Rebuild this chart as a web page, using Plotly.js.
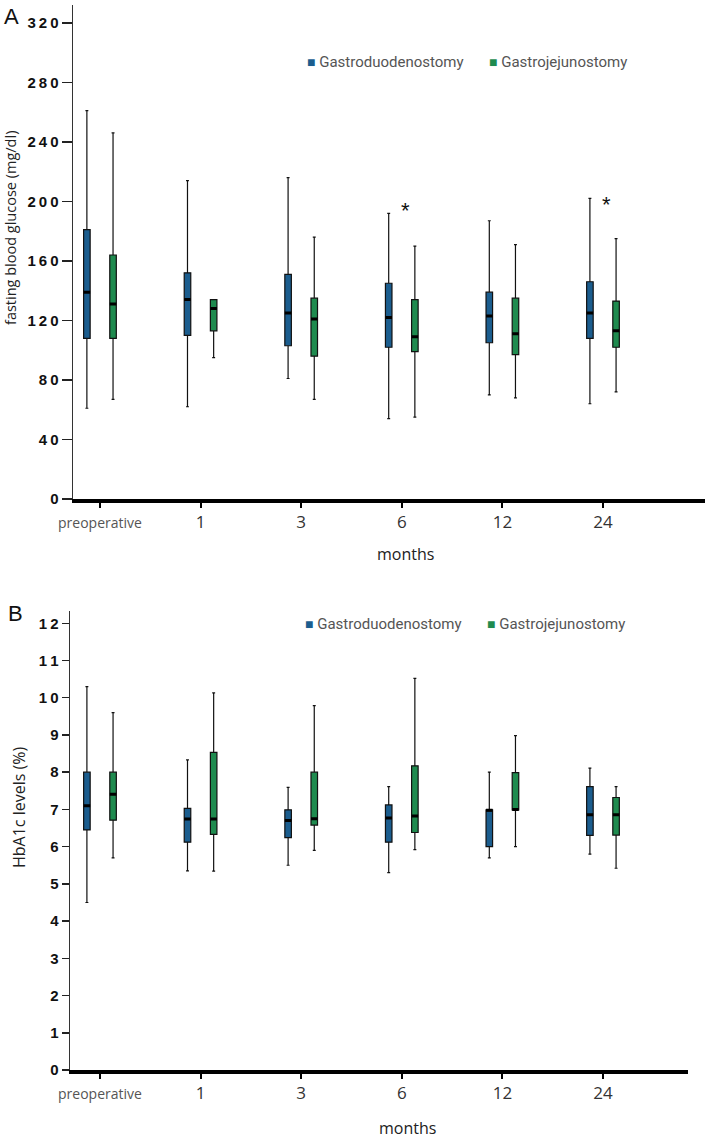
<!DOCTYPE html>
<html>
<head>
<meta charset="utf-8">
<script src="https://cdn.plot.ly/plotly-3.0.1.min.js"></script>
<style>
  body { margin: 0; background: #fff; }
  #myPlot { width: 705px; height: 1140px; }
</style>
</head>
<body>
<div id="myPlot"></div>
<script>
// Categories (months after surgery)
const months = ['preoperative', '1', '3', '6', '12', '24'];
const groups = ['Gastroduodenostomy', 'Gastrojejunostomy'];

// A: fasting blood glucose (mg/dl)
const fbg_gd_low  = [61, 62, 81, 54, 70, 64];
const fbg_gd_q1   = [108, 110, 103, 102, 105, 108];
const fbg_gd_med  = [139, 134, 125, 122, 123, 125];
const fbg_gd_q3   = [181, 152, 151, 145, 139, 146];
const fbg_gd_high = [261, 214, 216, 192, 187, 202];

const fbg_gj_low  = [67, 95, 67, 55, 68, 72];
const fbg_gj_q1   = [108, 113, 96, 99, 97, 102];
const fbg_gj_med  = [131, 128, 121, 109, 111, 113];
const fbg_gj_q3   = [164, 134, 135, 134, 135, 133];
const fbg_gj_high = [246, 134, 176, 170, 171, 175];

// B: HbA1c levels (%)
const hba_gd_low  = [4.5, 5.35, 5.5, 5.3, 5.7, 5.8];
const hba_gd_q1   = [6.45, 6.12, 6.24, 6.12, 6.0, 6.3];
const hba_gd_med  = [7.1, 6.74, 6.7, 6.77, 6.98, 6.86];
const hba_gd_q3   = [8.0, 7.03, 6.99, 7.12, 6.99, 7.61];
const hba_gd_high = [10.3, 8.33, 7.59, 7.61, 8.0, 8.11];

const hba_gj_low  = [5.7, 5.34, 5.9, 5.92, 6.0, 5.42];
const hba_gj_q1   = [6.71, 6.33, 6.58, 6.38, 6.99, 6.31];
const hba_gj_med  = [7.41, 6.74, 6.75, 6.82, 7.0, 6.86];
const hba_gj_q3   = [8.0, 8.53, 8.0, 8.17, 7.99, 7.32];
const hba_gj_high = [9.6, 10.13, 9.79, 10.52, 8.98, 7.61];

// y tick values
const fbg_ticks = [0, 40, 80, 120, 160, 200, 240, 280, 320];
const hba_ticks = [0, 1, 2, 3, 4, 5, 6, 7, 8, 9, 10, 11, 12];

// significance marks
const star_months = ['6', '24'];
const star_values = [196, 200];

const blue = '#1b5d8e';
const green = '#1f8b4f';

// paper coords from pixel positions
function px(x) { return x / 705; }
function py(y) { return 1 - y / 1140; }

function boxTrace(name, color, low, q1, med, q3, high, xa, ya) {
  return {
    type: 'box', name: name, x: months,
    lowerfence: low, q1: q1, median: med, q3: q3, upperfence: high,
    boxpoints: false, offsetgroup: name,
    fillcolor: color, line: {color: '#111', width: 1.2},
    whiskerwidth: 0.45, xaxis: xa, yaxis: ya,
    showlegend: false, hoverinfo: 'y'
  };
}
// thick median line drawn over the box
function medianTrace(name, med, xa, ya) {
  return {
    type: 'box', name: name + ' median', x: months,
    lowerfence: med, q1: med, median: med, q3: med, upperfence: med,
    boxpoints: false, offsetgroup: name,
    fillcolor: '#000', line: {color: '#000', width: 3},
    whiskerwidth: 0, xaxis: xa, yaxis: ya,
    showlegend: false, hoverinfo: 'skip'
  };
}

var data = [
  boxTrace(groups[0], blue, fbg_gd_low, fbg_gd_q1, fbg_gd_med, fbg_gd_q3, fbg_gd_high, 'x', 'y'),
  boxTrace(groups[1], green, fbg_gj_low, fbg_gj_q1, fbg_gj_med, fbg_gj_q3, fbg_gj_high, 'x', 'y'),
  medianTrace(groups[0], fbg_gd_med, 'x', 'y'),
  medianTrace(groups[1], fbg_gj_med, 'x', 'y'),
  boxTrace(groups[0], blue, hba_gd_low, hba_gd_q1, hba_gd_med, hba_gd_q3, hba_gd_high, 'x2', 'y2'),
  boxTrace(groups[1], green, hba_gj_low, hba_gj_q1, hba_gj_med, hba_gj_q3, hba_gj_high, 'x2', 'y2'),
  medianTrace(groups[0], hba_gd_med, 'x2', 'y2'),
  medianTrace(groups[1], hba_gj_med, 'x2', 'y2')
];

var tickText = months.map(function(m) {
  return m === 'preoperative'
    ? '<span style="font-size:14px;color:#555">' + m + '</span>'
    : m;
});
// spaced-out bold digits like the original
function spaced(v) { return String(v).split('').join('\u2009'); }

var xAxisBase = {
  type: 'category', showline: true, linewidth: 4, linecolor: '#000',
  ticks: 'outside', ticklen: 5, tickwidth: 2, tickcolor: '#000',
  tickvals: months, ticktext: tickText,
  tickfont: {family: 'Open Sans, sans-serif', size: 17, color: '#333'},
  showgrid: false, zeroline: false, fixedrange: true
};
var yAxisBase = {
  showline: true, linewidth: 1.5, linecolor: '#333',
  ticks: 'outside', tickwidth: 1.5, tickcolor: '#222',
  tickmode: 'array',
  tickfont: {family: 'Liberation Sans, Arial, sans-serif', size: 15, color: '#111', weight: 700},
  showgrid: false, zeroline: false, fixedrange: true
};

function legendNotes(yPix, x1, x2) {
  var f = {family: 'Roboto, sans-serif', size: 15, color: '#555'};
  function item(color, label) {
    return '<span style="color:' + color + ';font-size:14px">■</span> ' + label;
  }
  return [
    {xref: 'paper', yref: 'paper', x: px(x1), y: py(yPix), xanchor: 'left', yanchor: 'middle',
     showarrow: false, font: f, text: item(blue, groups[0])},
    {xref: 'paper', yref: 'paper', x: px(x2), y: py(yPix), xanchor: 'left', yanchor: 'middle',
     showarrow: false, font: f, text: item(green, groups[1])}
  ];
}

var annotations = [
  {xref: 'paper', yref: 'paper', x: px(2), y: py(16), xanchor: 'left', yanchor: 'middle',
   showarrow: false, text: 'A', font: {family: 'Liberation Sans, Arial, sans-serif', size: 22, color: '#111'}},
  {xref: 'paper', yref: 'paper', x: px(6), y: py(613), xanchor: 'left', yanchor: 'middle',
   showarrow: false, text: 'B', font: {family: 'Liberation Sans, Arial, sans-serif', size: 22, color: '#111'}},
  {xref: 'paper', yref: 'paper', x: px(11), y: py(228), xanchor: 'center', yanchor: 'middle',
   textangle: -90, showarrow: false, text: 'fasting blood glucose (mg/dl)',
   font: {family: 'Open Sans, sans-serif', size: 14.5, color: '#222'}},
  {xref: 'paper', yref: 'paper', x: px(19), y: py(808), xanchor: 'center', yanchor: 'middle',
   textangle: -90, showarrow: false, text: 'HbA1c levels (%)',
   font: {family: 'Open Sans, sans-serif', size: 16, color: '#222'}},
  {xref: 'paper', yref: 'paper', x: px(405), y: py(554), xanchor: 'center', yanchor: 'middle',
   showarrow: false, text: 'months', font: {family: 'Open Sans, sans-serif', size: 16, color: '#222'}},
  {xref: 'paper', yref: 'paper', x: px(408), y: py(1128), xanchor: 'center', yanchor: 'middle',
   showarrow: false, text: 'months', font: {family: 'Open Sans, sans-serif', size: 16, color: '#222'}}
].concat(legendNotes(62, 305, 487), legendNotes(624, 303, 485));

for (var i = 0; i < star_months.length; i++) {
  annotations.push({
    xref: 'x', yref: 'y', x: months.indexOf(star_months[i]), y: star_values[i],
    xshift: 4, yshift: -3, xanchor: 'center', yanchor: 'middle',
    showarrow: false, text: '*',
    font: {family: 'Liberation Sans, Arial, sans-serif', size: 22, color: '#111'}
  });
}

var layout = {
  width: 705, height: 1140,
  margin: {l: 0, r: 0, t: 0, b: 0},
  paper_bgcolor: '#fff', plot_bgcolor: '#fff',
  showlegend: false,
  boxmode: 'group', boxgap: 0.48, boxgroupgap: 0.75,
  xaxis: Object.assign({}, xAxisBase, {domain: [px(73), 1], range: [-0.268, 6.014], anchor: 'y'}),
  yaxis: Object.assign({}, yAxisBase, {
    domain: [py(499), py(5)], range: [0, 332], anchor: 'x', ticklen: 10,
    tickvals: fbg_ticks, ticktext: fbg_ticks.map(spaced)
  }),
  xaxis2: Object.assign({}, xAxisBase, {domain: [px(70), px(688)], range: [-0.298, 5.845], anchor: 'y2'}),
  yaxis2: Object.assign({}, yAxisBase, {
    domain: [py(1070), py(611)], range: [0, 12.33], anchor: 'x2', ticklen: 7,
    tickvals: hba_ticks, ticktext: hba_ticks.map(spaced)
  }),
  annotations: annotations
};

Plotly.newPlot('myPlot', data, layout, {staticPlot: true});
</script>
</body>
</html>
